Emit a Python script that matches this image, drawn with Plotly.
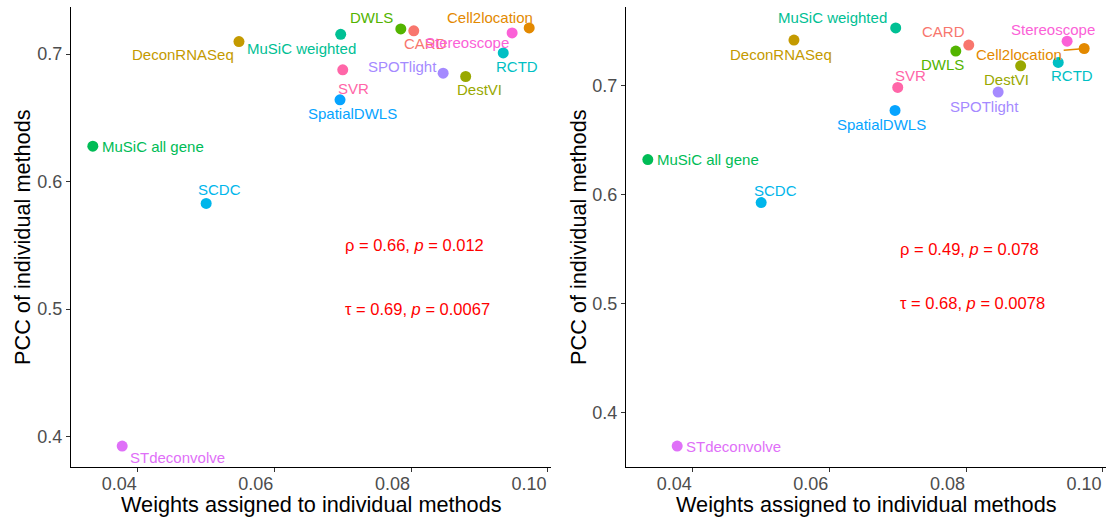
import plotly.graph_objects as go

# ---------------- data ----------------
methods = ["CARD", "Cell2location", "DeconRNASeq", "DestVI", "DWLS", "MuSiC all gene",
           "MuSiC weighted", "RCTD", "SCDC", "SpatialDWLS", "SPOTlight", "STdeconvolve",
           "Stereoscope", "SVR"]
colors = ["#F8766D", "#E38900", "#C49A00", "#99A800", "#53B400", "#00BC56", "#00C094",
          "#00BFC4", "#00B6EB", "#06A4FF", "#A58AFF", "#DF70F8", "#FB61D7", "#FF66A8"]
weights = [0.0804, 0.0973, 0.0548, 0.0880, 0.0785, 0.0334, 0.0697,
           0.0935, 0.0500, 0.0696, 0.0847, 0.0377, 0.0948, 0.0700]
pcc_left = [0.7182, 0.7205, 0.7098, 0.6824, 0.7197, 0.6278, 0.7155,
            0.7009, 0.5829, 0.6641, 0.6850, 0.3926, 0.7166, 0.6876]
pcc_right = [0.7370, 0.7339, 0.7416, 0.7180, 0.7315, 0.6320, 0.7528,
             0.7211, 0.5925, 0.6771, 0.6939, 0.3690, 0.7406, 0.6982]
stats_left = ["ρ = 0.66, <i>p</i> = 0.012", "τ = 0.69, <i>p</i> = 0.0067"]
stats_right = ["ρ = 0.49, <i>p</i> = 0.078", "τ = 0.68, <i>p</i> = 0.0078"]
stats_x = 0.07
stats_y = [0.55, 0.50]
x_ticks = [0.04, 0.06, 0.08, 0.10]
y_ticks = [0.4, 0.5, 0.6, 0.7]

# label offsets in pixels (dx, dy screen-down, anchor)
off_left = {
    "CARD": (11.8, 13, "center"), "Cell2location": (-39.3, -10, "center"),
    "DeconRNASeq": (-56, 13.3, "center"), "DestVI": (13.5, 13.3, "center"),
    "DWLS": (-29.4, -11, "center"), "MuSiC all gene": (7, 0, "left"),
    "MuSiC weighted": (-39, 14.6, "center"), "RCTD": (13.3, 13.4, "center"),
    "SCDC": (13, -13.4, "center"), "SpatialDWLS": (12.7, 13.4, "center"),
    "SPOTlight": (-41, -7, "center"), "STdeconvolve": (6.2, 11.3, "left"),
    "Stereoscope": (-45, 9.4, "center"), "SVR": (10.3, 19, "center"),
}
off_right = {
    "CARD": (-25, -14, "center"), "Cell2location": (-65, 5.7, "arrow"),
    "DeconRNASeq": (-13.4, 14, "center"), "DestVI": (-14, 13.3, "center"),
    "DWLS": (-13.4, 13.3, "center"), "MuSiC all gene": (7, 0, "left"),
    "MuSiC weighted": (-63, -10, "center"), "RCTD": (13.5, 13.4, "center"),
    "SCDC": (14, -12, "center"), "SpatialDWLS": (-14, 13.7, "center"),
    "SPOTlight": (-13.8, 14, "center"), "STdeconvolve": (6.5, 0, "left"),
    "Stereoscope": (-13.8, -12, "center"), "SVR": (13, -12, "center"),
}

W, H = 1111, 522
FONT = "Liberation Sans, Arial, sans-serif"


def expand(vals, f=0.05):
    lo, hi = min(vals), max(vals)
    s = hi - lo
    return [lo - f * s, hi + f * s]


fig = go.Figure()
panels = [
    dict(pcc=pcc_left, off=off_left, stats=stats_left, xa="x", ya="y",
         xdom=[71 / W, 551 / W], ytitle_x=22 / W),
    dict(pcc=pcc_right, off=off_right, stats=stats_right, xa="x2", ya="y2",
         xdom=[626 / W, 1106 / W], ytitle_x=578 / W),
]
ydom = [55 / H, 515 / H]
annotations = []
for i, p in enumerate(panels):
    fig.add_trace(go.Scatter(
        x=weights, y=p["pcc"], mode="markers", xaxis=p["xa"], yaxis=p["ya"],
        marker=dict(size=11, color=colors, line=dict(width=0)),
        text=methods, hoverinfo="text", showlegend=False))
    for m, wx, py, c in zip(methods, weights, p["pcc"], colors):
        dx, dy, anc = p["off"][m]
        if anc == "arrow":
            annotations.append(dict(
                x=wx, y=py, xref=p["xa"], yref=p["ya"], text=m, showarrow=True,
                ax=dx, ay=dy, arrowhead=0, arrowwidth=1.6, arrowcolor=c,
                standoff=5, font=dict(size=15, color=c, family=FONT)))
        else:
            annotations.append(dict(
                x=wx, y=py, xref=p["xa"], yref=p["ya"], text=m, showarrow=False,
                xanchor=anc, yanchor="middle", xshift=dx, yshift=-dy,
                font=dict(size=15, color=c, family=FONT)))
    for s, sy in zip(p["stats"], stats_y):
        annotations.append(dict(
            x=stats_x, y=sy, xref=p["xa"], yref=p["ya"], text=s, showarrow=False,
            xanchor="left", yanchor="middle",
            font=dict(size=16.5, color="#FF0000", family=FONT)))
    # axis titles
    annotations.append(dict(
        x=(p["xdom"][0] + p["xdom"][1]) / 2, y=18 / H, xref="paper", yref="paper",
        text="Weights assigned to individual methods", showarrow=False,
        xanchor="center", yanchor="middle",
        font=dict(size=21.7, color="black", family=FONT)))
    annotations.append(dict(
        x=p["ytitle_x"], y=(ydom[0] + ydom[1]) / 2, xref="paper", yref="paper",
        text="PCC of individual methods", showarrow=False, textangle=-90,
        xanchor="center", yanchor="middle",
        font=dict(size=21.7, color="black", family=FONT)))

axis_common = dict(showgrid=False, zeroline=False, showline=True, linecolor="black",
                   linewidth=1.1, ticks="outside", ticklen=4, tickwidth=1.1,
                   tickcolor="#333333", tickfont=dict(size=18, color="#4D4D4D", family=FONT),
                   automargin=False)

fig.update_layout(
    width=W, height=H, margin=dict(l=0, r=0, t=0, b=0),
    paper_bgcolor="white", plot_bgcolor="white",
    annotations=annotations,
    xaxis=dict(domain=panels[0]["xdom"], range=expand(weights), tickvals=x_ticks,
               tickformat=".2f", ticklabelposition="outside left", anchor="y", **axis_common),
    yaxis=dict(domain=ydom, range=expand(pcc_left), tickvals=y_ticks, tickformat=".1f",
               anchor="x", **axis_common),
    xaxis2=dict(domain=panels[1]["xdom"], range=expand(weights), tickvals=x_ticks,
                tickformat=".2f", ticklabelposition="outside left", anchor="y2", **axis_common),
    yaxis2=dict(domain=ydom, range=expand(pcc_right), tickvals=y_ticks, tickformat=".1f",
                anchor="x2", **axis_common),
)

fig.write_html("out.html")
